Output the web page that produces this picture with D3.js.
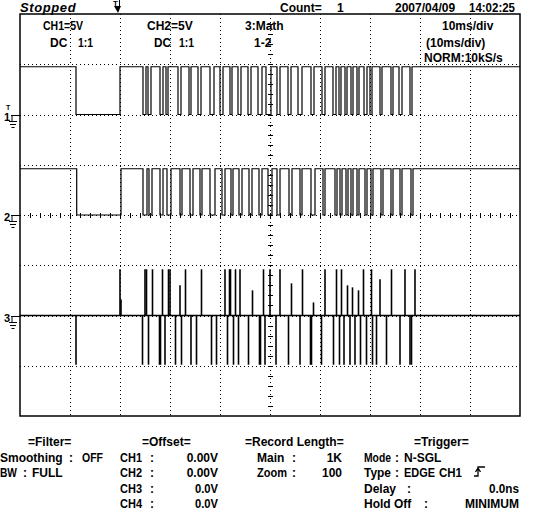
<!DOCTYPE html>
<html>
<head>
<meta charset="utf-8">
<script src="https://cdn.jsdelivr.net/npm/d3@7"></script>
<style>
  body { margin: 0; background: #fff; }
  text { font-family: "Liberation Sans", Arial, sans-serif; font-weight: bold; font-size: 12px; fill: #000; }
</style>
</head>
<body>
<svg id="scope" width="544" height="512"></svg>
<script>
// time axis in ms (10ms/div, trigger at 0), volts at 5V/div
var timeSpan = [-20, 80];
var voltSpan = [-20, 20];

// channel ground offsets (V) and high levels (V)
var ch1Offset = 10, ch2Offset = 0, ch3Offset = -10;
var ch1High = 4.75, ch2High = 4.6;

// low intervals [start, end] in ms
var ch1Lows = [[-8.8, 0], [4.6, 5.2], [5.6, 6.2], [8.0, 8.6], [9.2, 9.6], [11.6, 12.2], [13.8, 14.2],
  [15.6, 16.2], [18.0, 18.8], [20.0, 20.6], [22.0, 22.4], [23.6, 24.2], [25.6, 26.2], [27.6, 28.4],
  [29.2, 30.2], [31.4, 32.0], [33.6, 34.2], [35.6, 36.4], [38.2, 38.8], [40.4, 41.0], [42.6, 43.2],
  [43.8, 44.2], [45.0, 45.4], [46.2, 46.6], [47.4, 47.8], [48.8, 49.4], [50.0, 50.4], [52.0, 52.4],
  [54.2, 54.6], [55.8, 56.4], [58.0, 58.4]];
var ch2Lows = [[-8.66, 0.2], [4.6, 5.4], [5.8, 6.4], [8.0, 8.6], [9.4, 10.2], [12.0, 12.4], [14.0, 14.6],
  [16.0, 16.4], [18.0, 19.0], [20.4, 21.0], [22.2, 22.6], [23.8, 24.4], [25.8, 26.4], [27.8, 28.4],
  [29.6, 30.4], [31.4, 32.0], [33.8, 34.4], [36.0, 36.4], [38.2, 39.0], [40.6, 41.0], [43.0, 43.4],
  [44.0, 44.4], [45.2, 45.6], [46.2, 46.6], [47.4, 47.8], [49.0, 49.4], [50.2, 50.6], [52.2, 52.6],
  [54.2, 54.6], [56.0, 56.4], [58.2, 58.6]];

// math channel (1-2) spikes [ms, V]
var ch3Spikes = [[0.0, 4.6], [0.2, 1.6], [5.0, 4.6], [5.3, 4.6], [6.5, 4.6], [8.5, 4.6], [9.7, 4.6],
  [10.0, 4.6], [12.0, 3.0], [13.1, 4.6], [16.3, 4.6], [21.0, 4.6], [21.9, 4.6], [22.1, 4.6], [23.1, 4.6],
  [24.0, 4.6], [26.5, 2.5], [28.7, 4.6], [30.0, 4.6], [32.0, 4.6], [34.3, 3.2], [36.5, 4.6], [38.7, 1.3],
  [41.0, 4.6], [43.3, 4.6], [44.3, 4.6], [45.5, 3.0], [46.5, 2.8], [47.7, 2.5], [48.7, 4.6], [50.3, 4.6],
  [52.0, 3.6], [54.3, 4.6], [57.0, 4.6], [59.0, 4.6],
  [-8.8, -4.9], [4.5, -4.9], [5.7, -4.9], [7.9, -4.9], [8.1, -4.9], [9.0, -4.9], [11.1, -4.9], [12.3, -4.9],
  [14.2, -4.9], [15.3, -4.9], [18.3, -4.9], [19.3, -4.9], [21.5, -4.9], [22.7, -4.9], [23.7, -4.9],
  [25.7, -4.9], [27.9, -4.9], [28.1, -4.9], [29.0, -4.9], [31.2, -4.9], [33.7, -4.9], [36.0, -4.9],
  [38.1, -4.9], [38.3, -4.9], [40.3, -4.9], [42.7, -4.9], [43.9, -4.9], [44.8, -4.9], [46.0, -4.9],
  [47.0, -4.9], [48.1, -4.9], [49.3, -4.9], [50.5, -4.9], [51.3, -4.9], [53.3, -4.9], [56.0, -4.9],
  [58.0, -4.9], [58.3, -4.9]];

// texts
var statusText = "Stopped", countLabel = "Count=", countValue = "1";
var dateText = "2007/04/09", timeText = "14:02:25";
var ch1Info = ["CH1=5V", "DC", "1:1"], ch2Info = ["CH2=5V", "DC", "1:1"], mathInfo = ["3:Math", "1-2"];
var timebase = ["10ms/div", "(10ms/div)", "NORM:10kS/s"];
var panelTitles = ["=Filter=", "=Offset=", "=Record Length=", "=Trigger="];
var filterRows = [["Smoothing", "OFF"], ["BW", "FULL"]];
var offsetRows = [["CH1", "0.00V"], ["CH2", "0.00V"], ["CH3", "0.0V"], ["CH4", "0.0V"]];
var recordRows = [["Main", "1K"], ["Zoom", "100"]];
var triggerRows = [["Mode", "N-SGL"], ["Type", "EDGE", "CH1"], ["Delay", "0.0ns"], ["Hold Off", "MINIMUM"]];

var svg = d3.select('#scope')

var x = d3.scaleLinear().domain(timeSpan).range([20, 520])
var y = d3.scaleLinear().domain(voltSpan).range([416, 14])

// grid
var grid = svg.append('g').attr('stroke', '#000').attr('stroke-dasharray', '1,3').attr('shape-rendering', 'crispEdges')
grid.selectAll('.vg').data(d3.range(-10, 80, 10)).enter().append('line')
    .attr('x1', d => Math.round(x(d)) + 0.5).attr('x2', d => Math.round(x(d)) + 0.5)
    .attr('y1', y(20)).attr('y2', y(-20))
grid.selectAll('.hg').data(d3.range(-15, 20, 5)).enter().append('line')
    .attr('y1', d => Math.round(y(d)) + 0.5).attr('y2', d => Math.round(y(d)) + 0.5)
    .attr('x1', x(-20)).attr('x2', x(80))

// minor ticks on the centre cross
var ticks = svg.append('g').attr('stroke', '#000').attr('shape-rendering', 'crispEdges')
ticks.selectAll('.tx').data(d3.range(-18, 80, 2)).enter().append('line')
    .attr('x1', d => Math.round(x(d)) + 0.5).attr('x2', d => Math.round(x(d)) + 0.5)
    .attr('y1', Math.round(y(0)) - 2).attr('y2', Math.round(y(0)) + 3)
ticks.selectAll('.ty').data(d3.range(-19, 20, 1)).enter().append('line')
    .attr('y1', d => Math.round(y(d)) + 0.5).attr('y2', d => Math.round(y(d)) + 0.5)
    .attr('x1', Math.round(x(30)) - 2).attr('x2', Math.round(x(30)) + 3)

// frame
svg.append('rect')
    .attr('x', x(-20)).attr('y', y(20))
    .attr('width', x(80) - x(-20)).attr('height', y(-20) - y(20))
    .attr('fill', 'none').attr('stroke', '#000').attr('stroke-width', 1.5)

// square wave traces
var line = d3.line().x(d => x(d[0])).y(d => y(d[1]))

function wavePoints(lows, high, off) {
    var pts = [[timeSpan[0], off + high]]
    lows.forEach(function(l) {
        pts.push([l[0], off + high], [l[0], off], [l[1], off], [l[1], off + high])
    })
    pts.push([timeSpan[1], off + high])
    return pts
}

svg.append('path').attr('d', line(wavePoints(ch1Lows, ch1High, ch1Offset)))
    .attr('fill', 'none').attr('stroke', '#000').attr('stroke-width', 1.2)
svg.append('path').attr('d', line(wavePoints(ch2Lows, ch2High, ch2Offset)))
    .attr('fill', 'none').attr('stroke', '#000').attr('stroke-width', 1.2)

// math trace: baseline plus spikes
svg.append('line')
    .attr('x1', x(timeSpan[0])).attr('x2', x(timeSpan[1]))
    .attr('y1', y(ch3Offset)).attr('y2', y(ch3Offset))
    .attr('stroke', '#000').attr('stroke-width', 1.4)
svg.append('g').selectAll('line').data(ch3Spikes).enter().append('line')
    .attr('x1', d => x(d[0])).attr('x2', d => x(d[0]))
    .attr('y1', y(ch3Offset)).attr('y2', d => y(ch3Offset + d[1]))
    .attr('stroke', '#000').attr('stroke-width', 1.6)

// ground markers
function groundMark(off, label) {
    var gy = Math.round(y(off)) + 0.5
    var g = svg.append('g')
    g.append('text').attr('x', 4).attr('y', gy + 5).style('font-size', '11px').text(label)
    g.append('path')
        .attr('d', 'M11,' + gy + 'H20M12,' + gy + 'V' + (gy + 6) + 'M9,' + (gy + 6) + 'H17M10,' + (gy + 9) + 'H16M11.5,' + (gy + 12) + 'H14.5')
        .attr('stroke', '#000').attr('fill', 'none')
    return g
}
groundMark(ch1Offset, '1').append('text').attr('x', 6).attr('y', y(ch1Offset) - 5).style('font-size', '7px').text('T')
groundMark(ch2Offset, '2')
groundMark(ch3Offset, '3')

// trigger position marker
var tx = x(0) - 2
svg.append('text').attr('x', tx - 5).attr('y', 6).style('font-size', '8px').text('T')
svg.append('path').attr('d', 'M' + (tx - 4) + ',6L' + (tx + 3) + ',6L' + tx + ',13Z').attr('fill', '#000')
svg.append('line').attr('x1', tx + 1.5).attr('x2', tx + 1.5).attr('y1', 0).attr('y2', 8).attr('stroke', '#000')

// text helper: left edge, baseline, optional max width (only squeezes, never stretches)
function txt(s, px, py, w) {
    var t = svg.append('text').attr('x', px).attr('y', py).text(s)
    if (w && t.node().getComputedTextLength() > w)
        t.attr('textLength', w).attr('lengthAdjust', 'spacingAndGlyphs')
    return t
}
// right-aligned variant
function txtR(s, right, py, w) {
    var t = txt(s, right, py, w)
    t.attr('text-anchor', 'end')
    return t
}

// header
txt(statusText, 20, 12, 57).style('font-style', 'italic').style('font-size', '13px').style('letter-spacing', '0.6px')
txt(countLabel, 280, 12, 42)
txt(countValue, 337, 12)
txt(dateText, 395, 12, 69)
txt(timeText, 469, 12, 46)

txt(ch1Info[0], 43, 30, 40); txt(ch1Info[1], 50, 47, 18); txt(ch1Info[2], 78, 47, 15)
txt(ch2Info[0], 147, 30, 46); txt(ch2Info[1], 154, 47, 17); txt(ch2Info[2], 179, 47, 15)
txt(mathInfo[0], 245, 30, 46); txt(mathInfo[1], 254, 47, 27)
txt(timebase[0], 442, 30, 57); txt(timebase[1], 426, 47, 81); txt(timebase[2], 424, 61.5, 85)

// bottom status panel
var rowY = [445.5, 461.5, 477, 492.5, 508]
txt(panelTitles[0], 28, rowY[0], 47)
txt(panelTitles[1], 142, rowY[0], 55)
txt(panelTitles[2], 245, rowY[0], 110)
txt(panelTitles[3], 414, rowY[0], 58)

txt(filterRows[0][0], 0, rowY[1], 63); txt(':', 69, rowY[1]); txt(filterRows[0][1], 82, rowY[1], 21)
txt(filterRows[1][0], 0, rowY[2], 17); txt(':', 23, rowY[2]); txt(filterRows[1][1], 32, rowY[2], 31)

offsetRows.forEach(function(r, i) {
    txt(r[0], 120, rowY[i + 1], 22)
    txt(':', 150, rowY[i + 1])
    txtR(r[1], 218, rowY[i + 1], r[1].length == 5 ? 32 : 23)
})

recordRows.forEach(function(r, i) {
    txt(r[0], 257, rowY[i + 1], 30)
    txt(':', 292, rowY[i + 1])
})
txtR(recordRows[0][1], 342, rowY[1], 17)
txtR(recordRows[1][1], 342, rowY[2], 20)

txt(triggerRows[0][0], 364, rowY[1], 27); txt(':', 395, rowY[1]); txt(triggerRows[0][1], 404, rowY[1], 38)
txt(triggerRows[1][0], 364, rowY[2], 27); txt(':', 395, rowY[2]); txt(triggerRows[1][1], 404, rowY[2], 31)
txt(triggerRows[1][2], 439, rowY[2], 23)
txt(triggerRows[2][0], 364, rowY[3], 34); txt(':', 407, rowY[3]); txtR(triggerRows[2][1], 519, rowY[3], 30)
txt(triggerRows[3][0], 364, rowY[4], 52); txt(':', 424, rowY[4]); txtR(triggerRows[3][1], 519, rowY[4], 59)

// rising edge symbol
var ey = rowY[2]
svg.append('path')
    .attr('d', 'M474,' + (ey - 1) + 'H478V' + (ey - 10) + 'H485M475.5,' + (ey - 5) + 'L478,' + (ey - 9) + 'L480.5,' + (ey - 5))
    .attr('fill', 'none').attr('stroke', '#000').attr('stroke-width', 1.3)
</script>
</body>
</html>
